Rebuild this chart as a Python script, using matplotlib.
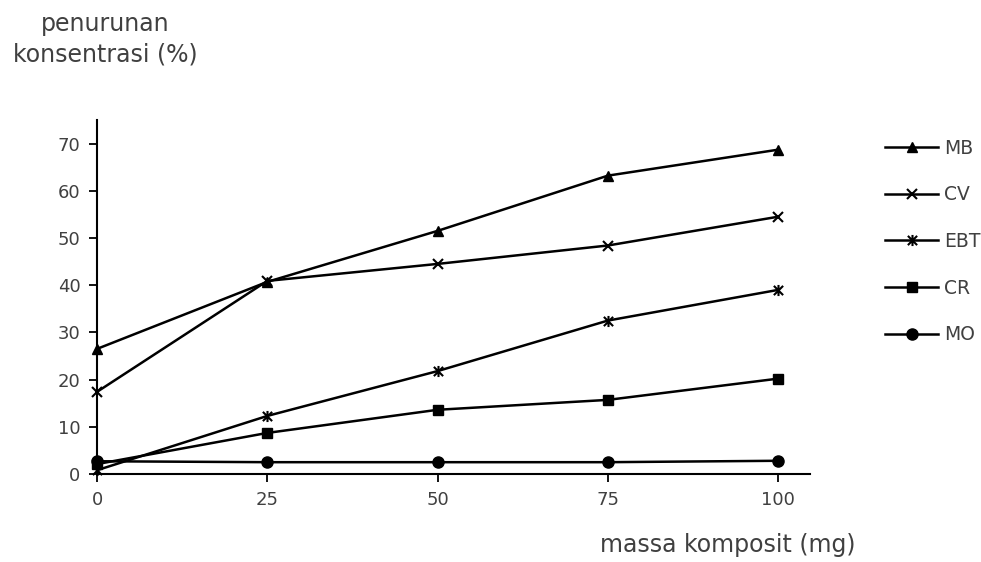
import matplotlib.pyplot as plt
import numpy as np
from matplotlib.path import Path

massa = [0, 25, 50, 75, 100]
mb = [26.5, 40.7, 51.5, 63.2, 68.7]
cv = [17.4, 40.9, 44.5, 48.4, 54.5]
ebt = [0.8, 12.3, 21.8, 32.5, 39.0]
cr = [2.1, 8.7, 13.6, 15.7, 20.2]
mo = [2.7, 2.5, 2.5, 2.5, 2.8]
seri_labels = ['MB', 'CV', 'EBT', 'CR', 'MO']

# asterisk marker ala Excel (x + garis tegak)
star = Path([(-1, -1), (1, 1), (-1, 1), (1, -1), (0, -1.2), (0, 1.2)],
            [Path.MOVETO, Path.LINETO, Path.MOVETO, Path.LINETO, Path.MOVETO, Path.LINETO])

gaya = [
    dict(marker='^', markersize=7.5),
    dict(marker='x', markersize=7, markeredgewidth=1.5),
    dict(marker=star, markersize=8, markeredgewidth=1.5),
    dict(marker='s', markersize=6.5),
    dict(marker='o', markersize=8),
]

teks = '#404040'
plt.rcParams['font.family'] = 'DejaVu Sans'

fig = plt.figure(figsize=(9.81, 5.62), dpi=100)
ax = fig.add_axes([0.0989, 0.1566, 0.727, 0.63])

for data, lab, g in zip([mb, cv, ebt, cr, mo], seri_labels, gaya):
    ax.plot(massa, data, color='black', linewidth=1.8, label=lab, clip_on=False, **g)

ax.set_xlim(0, 104.7)
ax.set_ylim(0, 75)
ax.set_xticks(massa)
ax.set_yticks(np.arange(0, 71, 10))
ax.spines['top'].set_visible(False)
ax.spines['right'].set_visible(False)
ax.spines['left'].set_linewidth(1.5)
ax.spines['bottom'].set_linewidth(1.5)
ax.tick_params(length=6, width=1.3, labelsize=13, labelcolor=teks, pad=6)

fig.text(0.107, 0.978, 'penurunan\nkonsentrasi (%)', ha='center', va='top',
         fontsize=17, color=teks, linespacing=1.3)
fig.text(0.872, 0.017, 'massa komposit (mg)', ha='right', va='baseline',
         fontsize=17, color=teks)

leg = ax.legend(loc='upper left', bbox_to_anchor=(0.885, 0.783), bbox_transform=fig.transFigure,
                frameon=False, fontsize=13.5, handlelength=2.85, handletextpad=0.3,
                labelspacing=1.47)
for t in leg.get_texts():
    t.set_color(teks)

plt.savefig('out.png', dpi=100)
